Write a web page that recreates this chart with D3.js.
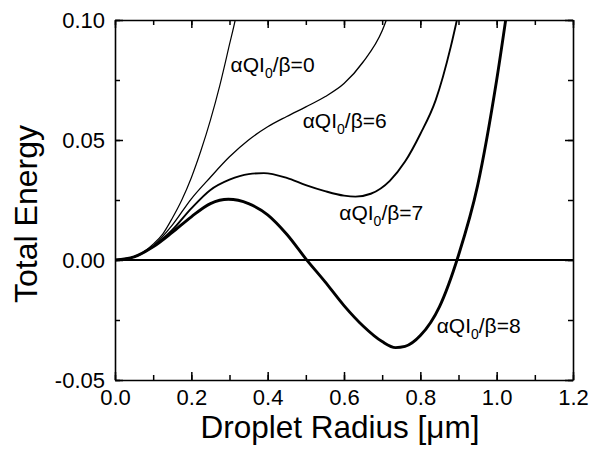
<!DOCTYPE html>
<html>
<head>
<meta charset="utf-8">
<script src="https://cdn.jsdelivr.net/npm/d3@7"></script>
<style>
  html, body { margin: 0; padding: 0; background: #fff; }
  svg { display: block; font-family: "Liberation Sans", Arial, Helvetica, sans-serif; }
</style>
</head>
<body>
<svg id="chart" width="590" height="457"></svg>
<script>
// ---- data ----
const radius0 = [0, 0.05, 0.1, 0.125, 0.15, 0.175, 0.2, 0.225, 0.25, 0.275, 0.3, 0.315, 0.33];
const energy0 = [0, 0.0013, 0.0066, 0.0108, 0.0174, 0.025, 0.0343, 0.0455, 0.0583, 0.073, 0.0898, 0.1, 0.112];

const radius6 = [0, 0.05, 0.1, 0.15, 0.2, 0.25, 0.3, 0.35, 0.4, 0.45, 0.5, 0.55, 0.6, 0.65, 0.7, 0.72];
const energy6 = [0, 0.0013, 0.0058, 0.0145, 0.0255, 0.0345, 0.043, 0.050, 0.0555, 0.0598, 0.0638, 0.068, 0.0735, 0.0825, 0.0955, 0.104];

const radius7 = [0, 0.05, 0.1, 0.15, 0.2, 0.25, 0.3, 0.35, 0.39, 0.45, 0.5, 0.55, 0.6, 0.63, 0.67, 0.72, 0.76, 0.8, 0.84, 0.88, 0.9];
const energy7 = [0, 0.0013, 0.0056, 0.0125, 0.0215, 0.0292, 0.0335, 0.0358, 0.0362, 0.0342, 0.0312, 0.0287, 0.0268, 0.0264, 0.0276, 0.033, 0.041, 0.0525, 0.0665, 0.089, 0.103];

const radius8 = [0, 0.05, 0.1, 0.15, 0.2, 0.25, 0.297, 0.35, 0.4, 0.45, 0.5, 0.55, 0.6, 0.65, 0.7, 0.735, 0.76, 0.8, 0.85, 0.9, 0.95, 1.0, 1.03];
const energy8 = [0, 0.0013, 0.0055, 0.0115, 0.018, 0.0235, 0.0253, 0.0235, 0.0188, 0.0107, 0.0005, -0.009, -0.019, -0.0275, -0.034, -0.0365, -0.036, -0.0315, -0.0195, 0.002, 0.031, 0.075, 0.107];

const seriesLabels = ["0", "6", "7", "8"];
const xTicks = [0, 0.2, 0.4, 0.6, 0.8, 1.0, 1.2];
const yTicks = [0.10, 0.05, 0.00, -0.05];
const xTitle = "Droplet Radius [\u03bcm]";
const yTitle = "Total Energy";

// ---- layout ----
const svg = d3.select("#chart");
const L = 115, R = 573, T = 20, B = 380;
const x = d3.scaleLinear().domain([0, 1.2]).range([L, R]);
const y = d3.scaleLinear().domain([-0.05, 0.10]).range([B, T]);

const series = [
  { r: radius0, e: energy0, w: 1.2, lab: seriesLabels[0], lx: 0.3029, ly: 0.0785 },
  { r: radius6, e: energy6, w: 1.3, lab: seriesLabels[1], lx: 0.4918, ly: 0.0549 },
  { r: radius7, e: energy7, w: 1.9, lab: seriesLabels[2], lx: 0.5877, ly: 0.0167 },
  { r: radius8, e: energy8, w: 2.9, lab: seriesLabels[3], lx: 0.8428, ly: -0.0305 }
];

svg.append("defs").append("clipPath").attr("id", "clip")
  .append("rect").attr("x", L).attr("y", T).attr("width", R - L).attr("height", B - T);

// zero line
svg.append("line")
  .attr("x1", x(0)).attr("x2", x(1.2)).attr("y1", y(0)).attr("y2", y(0))
  .attr("stroke", "#000").attr("stroke-width", 2);

const line = d3.line().x(d => x(d[0])).y(d => y(d[1])).curve(d3.curveMonotoneX);
const g = svg.append("g").attr("clip-path", "url(#clip)");
series.forEach(s => {
  g.append("path")
    .datum(s.r.map((r, i) => [r, s.e[i]]))
    .attr("d", line)
    .attr("fill", "none")
    .attr("stroke", "#000")
    .attr("stroke-width", s.w)
    .attr("stroke-linejoin", "round");
});

// axes with inward ticks, mirrored
const minorX = d3.range(0, 1.2001, 0.1);
const minorY = d3.range(-0.05, 0.1001, 0.025);
function ax(axisFn, scale, ticks, minor, transform, showLabels, fmt) {
  const gMinor = svg.append("g").attr("transform", transform)
    .call(axisFn(scale).tickValues(minor).tickSizeInner(-5).tickSizeOuter(0).tickFormat(""));
  gMinor.select(".domain").remove();
  gMinor.selectAll("line").attr("stroke-width", 1.5);
  const gMaj = svg.append("g").attr("transform", transform)
    .call(axisFn(scale).tickValues(ticks).tickSizeInner(-8).tickSizeOuter(0).tickPadding(11)
      .tickFormat(showLabels ? fmt : ""));
  gMaj.select(".domain").attr("stroke-width", 1.6);
  gMaj.selectAll("line").attr("stroke-width", 1.5);
  gMaj.selectAll("text").attr("font-size", 22).attr("fill", "#000")
    .attr("font-family", '"Liberation Sans", Arial, sans-serif');
  return gMaj;
}
const gx = ax(d3.axisBottom, x, xTicks, minorX, `translate(0,${B})`, true, d3.format(".1f"));
gx.selectAll("text").attr("dy", "0.71em").attr("y", 9);
ax(d3.axisTop, x, xTicks, minorX, `translate(0,${T})`, false);
const gy = ax(d3.axisLeft, y, yTicks, minorY, `translate(${L},0)`, true, d => d3.format(".2f")(d).replace("\u2212", "-"));
gy.selectAll("text").attr("x", -10);
ax(d3.axisRight, y, yTicks, minorY, `translate(${R},0)`, false);

// axis titles
svg.append("text")
  .attr("x", (L + R) / 2 - 4).attr("y", 438)
  .attr("text-anchor", "middle").attr("font-size", 31.5).attr("fill", "#000")
  .text(xTitle);
svg.append("text")
  .attr("transform", `translate(37,214) rotate(-90)`)
  .attr("text-anchor", "middle").attr("font-size", 32).attr("fill", "#000")
  .text(yTitle);

// curve labels
series.forEach(s => {
  const t = svg.append("text")
    .attr("x", x(s.lx)).attr("y", y(s.ly))
    .attr("font-size", 21).attr("fill", "#000");
  t.append("tspan").text("\u03b1QI");
  t.append("tspan").attr("font-size", 14).attr("dy", 6).text("0");
  t.append("tspan").attr("dy", -6).text("/\u03b2=" + s.lab);
});
</script>
</body>
</html>
